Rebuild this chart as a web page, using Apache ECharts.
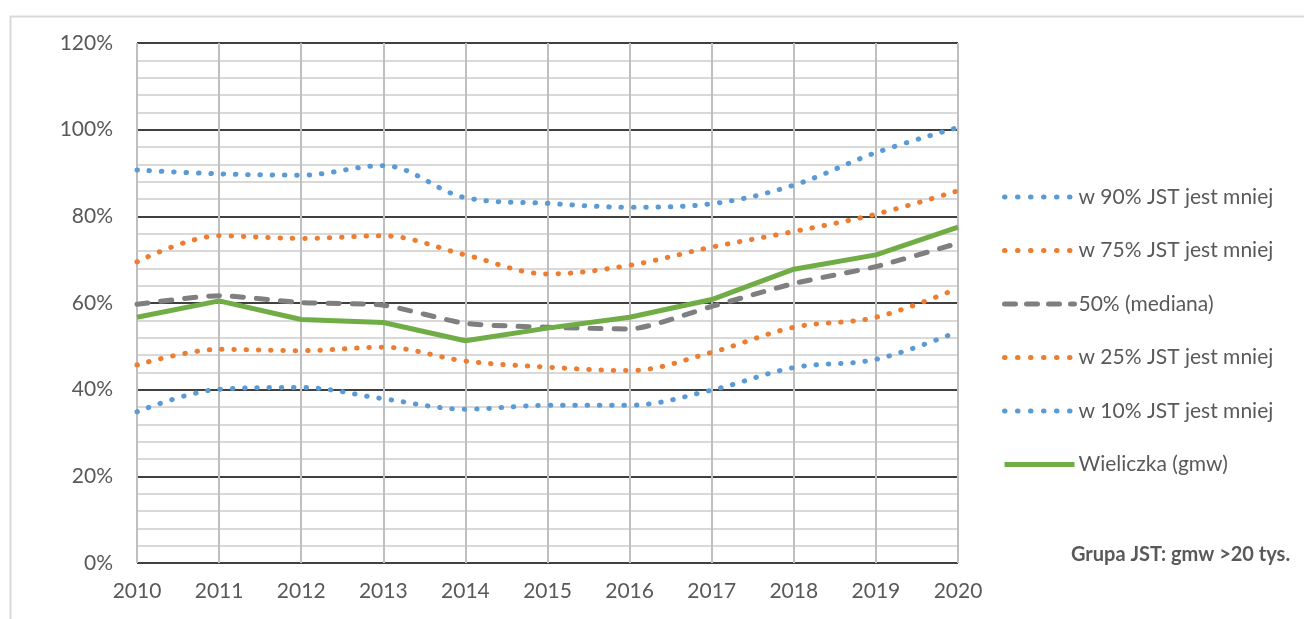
<!DOCTYPE html>
<html><head><meta charset="utf-8">
<script src="https://cdn.jsdelivr.net/npm/echarts@6/dist/echarts.min.js"></script>
<style>html,body{margin:0;padding:0;background:#fff}#c{width:1304px;height:619px}</style>
</head><body><div id="c"></div>
<script>
const years = ['2010','2011','2012','2013','2014','2015','2016','2017','2018','2019','2020'];
const p90 = [90.7, 89.8, 89.5, 91.7, 84.3, 83.0, 82.1, 82.9, 87.2, 94.7, 100.5];
const p75 = [69.5, 75.5, 74.9, 75.5, 71.1, 66.7, 68.7, 72.9, 76.5, 80.5, 85.9];
const p50 = [59.7, 61.7, 60.1, 59.5, 55.3, 54.4, 54.0, 59.2, 64.5, 68.4, 73.8];
const p25 = [45.7, 49.3, 49.0, 49.8, 46.6, 45.2, 44.4, 48.6, 54.4, 56.7, 63.4];
const p10 = [34.9, 40.1, 40.5, 37.9, 35.5, 36.4, 36.4, 39.9, 45.1, 47.0, 53.4];
const wieliczka = [56.7, 60.5, 56.2, 55.5, 51.3, 54.2, 56.7, 60.8, 67.8, 71.1, 77.5];
const names = ['w 90% JST jest mniej','w 75% JST jest mniej','50% (mediana)','w 25% JST jest mniej','w 10% JST jest mniej','Wieliczka (gmw)'];
const yTicks = [0,20,40,60,80,100,120];

const FONT = 'Lato';
const TXT = '#595959';
const BLUE = '#5b9bd5', ORANGE = '#ed7d31', GRAY = '#7f7f7f', GREEN = '#70ad47';
const dotted = c => ({color: c, width: 5, type: [0.5, 11.8], cap: 'round'});
const dashed = {color: GRAY, width: 5, type: [11, 13], cap: 'round'};
const solid = {color: GREEN, width: 5};
const styles = [dotted(BLUE), dotted(ORANGE), dashed, dotted(ORANGE), dotted(BLUE), solid];
const legendStyles = [
  {color: BLUE, width: 5, type: [0.5, 12.5], cap: 'round'},
  {color: ORANGE, width: 5, type: [0.5, 12.5], cap: 'round'},
  {color: GRAY, width: 5, type: [11, 11], cap: 'round'},
  {color: ORANGE, width: 5, type: [0.5, 12.5], cap: 'round'},
  {color: BLUE, width: 5, type: [0.5, 12.5], cap: 'round'},
  {color: GREEN, width: 5, type: 'solid', cap: 'butt'}
];
const colors = [BLUE, ORANGE, GRAY, ORANGE, BLUE, GREEN];
const dataSets = [p90, p75, p50, p25, p10, wieliczka];
const smooths = [0.35, 0.35, 0.2, 0.35, 0.35, false];

const chart = echarts.init(document.getElementById('c'), null, {renderer: 'canvas'});
chart.setOption({
  animation: false,
  backgroundColor: '#fff',
  grid: {left: 137, right: 346, top: 43, bottom: 56, containLabel: false},
  xAxis: {
    type: 'category', data: years, boundaryGap: false,
    axisLine: {show: false},
    axisTick: {show: false},
    axisLabel: {color: TXT, fontFamily: FONT, fontSize: 21, margin: 18},
    splitLine: {show: true, lineStyle: {color: '#bfbfbf', width: 2}}
  },
  yAxis: {
    type: 'value', min: 0, max: 120, interval: 20,
    axisLine: {show: false}, axisTick: {show: false},
    axisLabel: {color: TXT, fontFamily: FONT, fontSize: 21, margin: 24,
      formatter: v => yTicks.includes(v) ? v + '%' : ''},
    splitLine: {show: true, lineStyle: {color: '#404040', width: 2}},
    minorTick: {show: false, splitNumber: 5},
    minorSplitLine: {show: true, lineStyle: {color: '#d9d9d9', width: 2}}
  },
  legend: {
    orient: 'vertical', left: 997, top: 180,
    itemWidth: 70, itemHeight: 14, itemGap: 29.5,
    textStyle: {color: TXT, fontFamily: FONT, fontSize: 21, lineHeight: 24, padding: [0,0,0,-1]},
    itemStyle: {opacity: 0},
    data: names.map((n, i) => ({name: n, lineStyle: legendStyles[i], itemStyle: {opacity: 0}}))
  },
  series: names.map((n, i) => ({
    name: n, type: 'line', data: dataSets[i], symbol: 'none', smooth: smooths[i],
    lineStyle: styles[i], itemStyle: {color: colors[i]}, z: i === 5 ? 5 : (i === 2 ? 4 : 3)
  })),
  graphic: [
    {type: 'rect', left: 8, top: 14, z: -10, silent: true,
      shape: {width: 1320, height: 640}, style: {fill: 'none', stroke: '#d9d9d9', lineWidth: 2}},
    {type: 'text', x: 1071, y: 555, silent: true,
      style: {text: 'Grupa JST: gmw >20 tys.', fill: TXT, font: 'bold 20px ' + FONT, textVerticalAlign: 'middle'}}
  ]
});
</script></body></html>
